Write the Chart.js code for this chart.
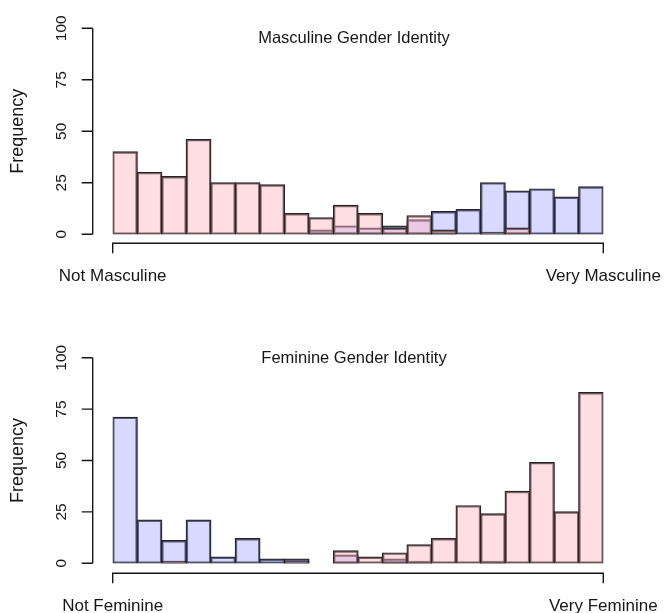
<!DOCTYPE html>
<html>
<head>
<meta charset="utf-8">
<script src="https://cdn.jsdelivr.net/npm/chart.js@4"></script>
<style>
  body { margin: 0; background: #fff; }
  .panel { position: absolute; left: 0; }
</style>
</head>
<body>
<div class="panel" style="top:0"><canvas id="masc" width="664" height="306"></canvas></div>
<div class="panel" style="top:306px"><canvas id="fem" width="664" height="307"></canvas></div>
<script>
// 20 histogram bins from "Not" to "Very"
const bins = ['1','2','3','4','5','6','7','8','9','10','11','12','13','14','15','16','17','18','19','20'];
const yTicks = [0, 25, 50, 75, 100];

// masculine gender identity counts
const mascPink = [40, 30, 28, 46, 25, 25, 24, 10, 8, 14, 10, 3, 9, 2, 0, 1, 3, 0, 0, 0];
const mascBlue = [0, 0, 0, 0, 0, 0, 0, 0, 2, 4, 3, 4, 7, 11, 12, 25, 21, 22, 18, 23];

// feminine gender identity counts
const femPink = [0, 0, 1, 0, 0, 0, 0, 1, 0, 6, 3, 5, 9, 12, 28, 24, 35, 49, 25, 83];
const femBlue = [71, 21, 11, 21, 3, 12, 2, 2, 0, 4, 0, 2, 1, 0, 0, 1, 0, 0, 0, 0];

const pinkFill = 'rgba(255, 182, 193, 0.45)';
const blueFill = 'rgba(170, 170, 255, 0.45)';
const edge = '#222';
const ink = '#161616';
const fontFam = '"Liberation Sans", Arial, Helvetica, sans-serif';

// R style base-graphics axes, drawn from the chart's own scales
const rAxes = {
  id: 'rAxes',
  afterDraw(chart, args, opts) {
    const { ctx, chartArea: area, scales: { y } } = chart;
    const y0 = y.getPixelForValue(yTicks[0]);
    const yTop = y.getPixelForValue(yTicks[yTicks.length - 1]);
    const axX = area.left - 20;
    const axY = y0 + opts.gap;

    ctx.save();
    ctx.strokeStyle = ink;
    ctx.lineWidth = 1.4;
    ctx.beginPath();
    ctx.moveTo(axX, y0);
    ctx.lineTo(axX, yTop);
    yTicks.forEach(v => {
      const p = y.getPixelForValue(v);
      ctx.moveTo(axX, p);
      ctx.lineTo(axX - 11, p);
    });
    ctx.moveTo(area.left, axY + 10);
    ctx.lineTo(area.left, axY);
    ctx.lineTo(area.right, axY);
    ctx.lineTo(area.right, axY + 10);
    ctx.stroke();

    ctx.fillStyle = ink;
    ctx.textAlign = 'center';
    ctx.textBaseline = 'middle';
    ctx.font = '15.5px ' + fontFam;
    yTicks.forEach(v => {
      ctx.save();
      ctx.translate(axX - 31, y.getPixelForValue(v));
      ctx.rotate(-Math.PI / 2);
      ctx.fillText(String(v), 0, 0);
      ctx.restore();
    });

    ctx.font = '18px ' + fontFam;
    ctx.save();
    ctx.translate(18.5, (y0 + yTop) / 2);
    ctx.rotate(-Math.PI / 2);
    ctx.fillText('Frequency', 0, 0);
    ctx.restore();

    ctx.textBaseline = 'alphabetic';
    ctx.font = '17px ' + fontFam;
    ctx.fillText(opts.low, area.left, axY + 38);
    ctx.fillText(opts.high, area.right, axY + 38);

    ctx.font = '16.5px ' + fontFam;
    ctx.fillText(opts.title, (area.left + area.right) / 2 - 4, opts.titleY);
    ctx.restore();
  }
};

function histChart(id, pink, blue, padding, axesOpts) {
  const barStyle = {
    borderColor: edge,
    borderWidth: 1.2,
    inflateAmount: 0.6,
    borderSkipped: false,
    grouped: false,
    barPercentage: 1,
    categoryPercentage: 1
  };
  return new Chart(document.getElementById(id), {
    type: 'bar',
    data: {
      labels: bins,
      datasets: [
        { ...barStyle, data: pink, backgroundColor: pinkFill },
        { ...barStyle, data: blue, backgroundColor: blueFill }
      ]
    },
    options: {
      responsive: false,
      animation: false,
      events: [],
      layout: { padding: padding },
      plugins: {
        legend: { display: false },
        tooltip: { enabled: false },
        rAxes: axesOpts
      },
      scales: {
        x: { display: false },
        y: { display: false, min: 0, max: 100 }
      }
    },
    plugins: [rAxes]
  });
}

histChart('masc', mascPink, mascBlue,
  { left: 112.7, right: 60.7, top: 28.3, bottom: 71.7 },
  { title: 'Masculine Gender Identity', titleY: 42.7, low: 'Not Masculine', high: 'Very Masculine', gap: 9 });

histChart('fem', femPink, femBlue,
  { left: 112.7, right: 60.7, top: 51.7, bottom: 49.7 },
  { title: 'Feminine Gender Identity', titleY: 56.7, low: 'Not Feminine', high: 'Very Feminine', gap: 10 });
</script>
</body>
</html>
